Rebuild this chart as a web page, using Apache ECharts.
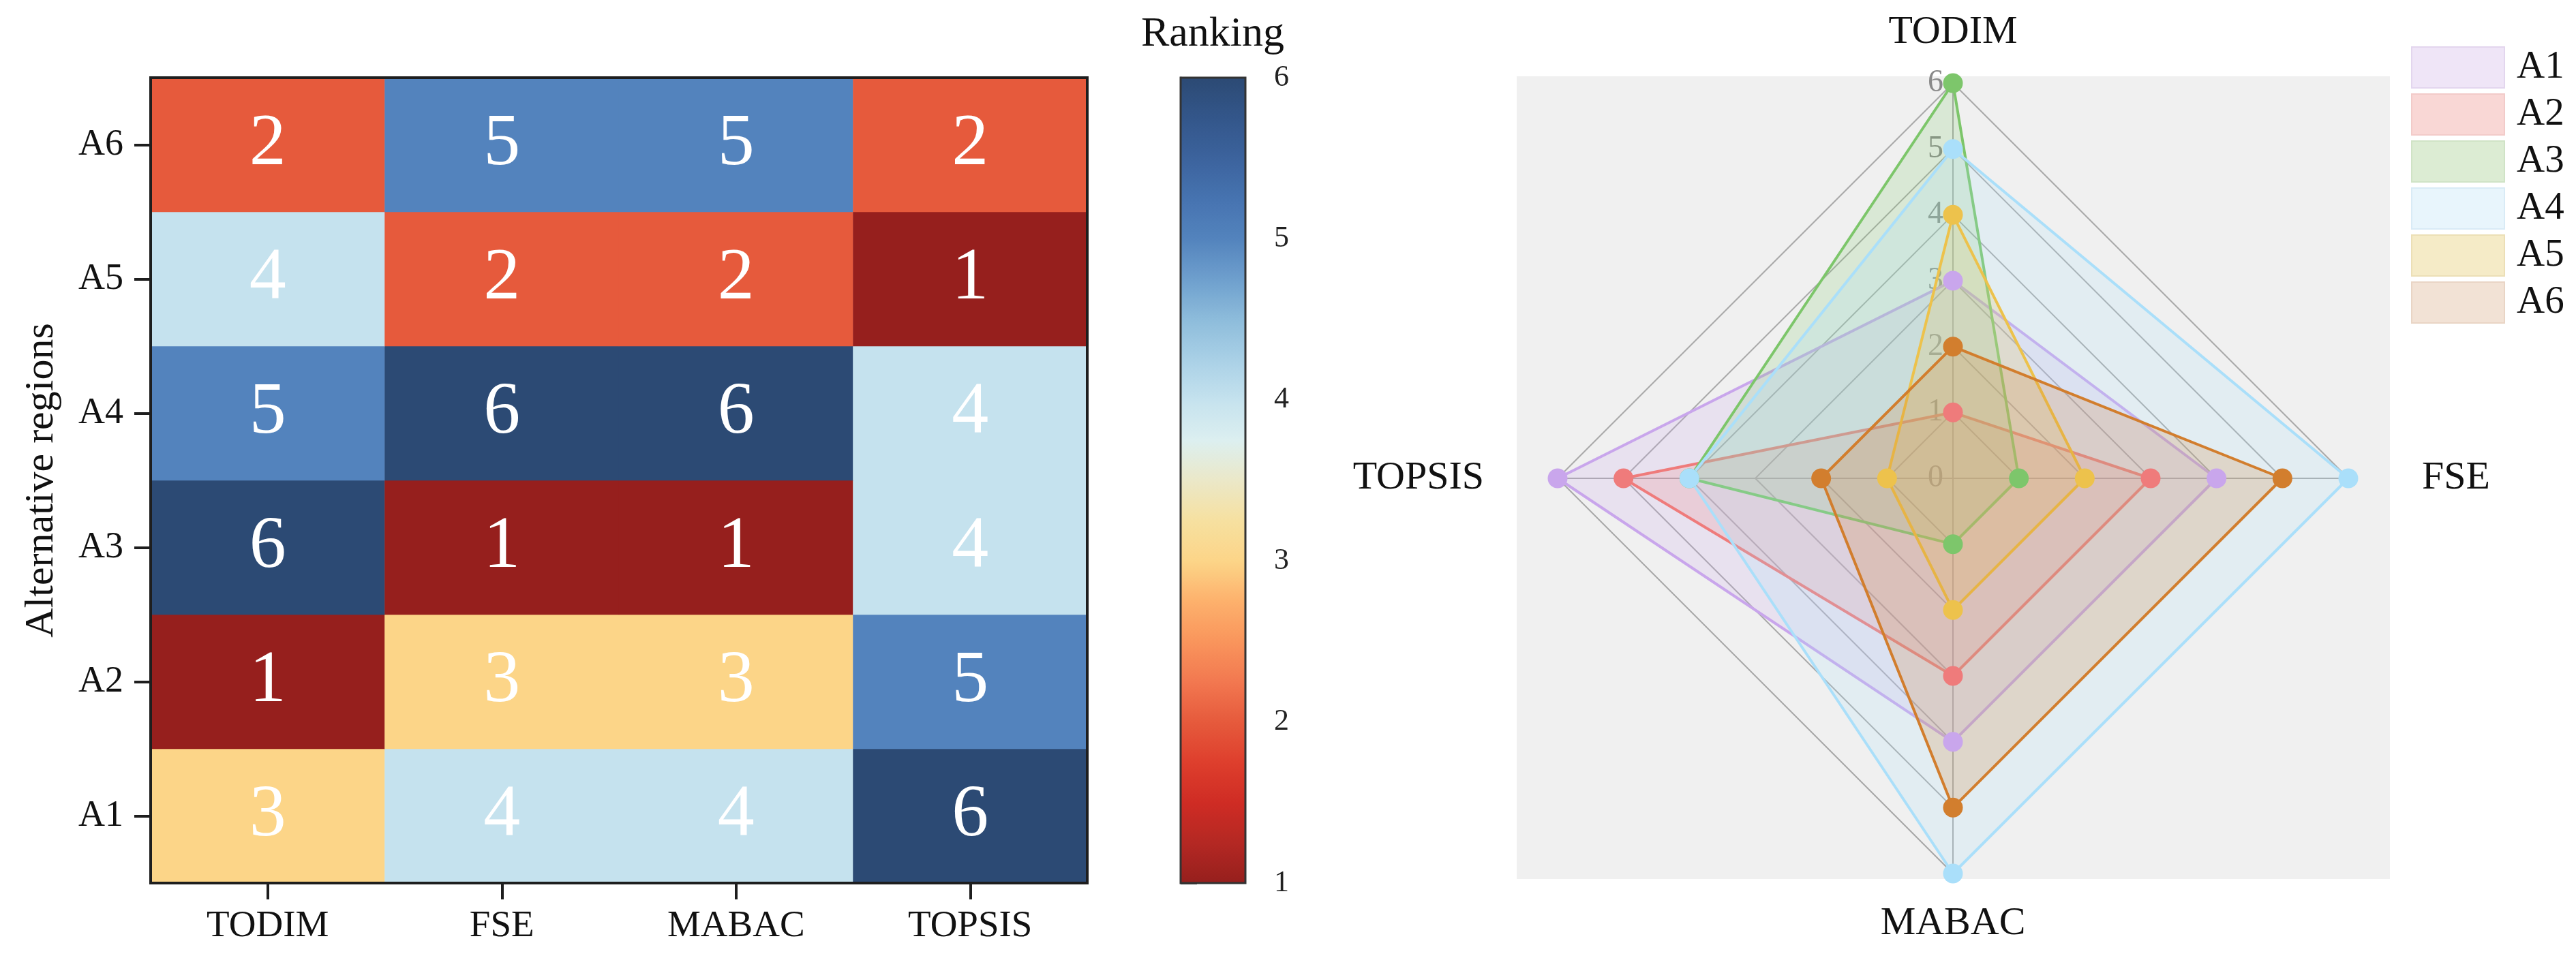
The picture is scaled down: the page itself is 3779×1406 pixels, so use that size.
<!DOCTYPE html>
<html>
<head>
<meta charset="utf-8">
<script src="https://cdn.jsdelivr.net/npm/echarts@6/dist/echarts.min.js"></script>
<style>html,body{margin:0;padding:0;background:#fff}#c{width:3779px;height:1406px}</style>
</head>
<body>
<div id="c"></div>
<script>
// ---- data ----
const methods = ['TODIM', 'FSE', 'MABAC', 'TOPSIS'];
const regions = ['A1', 'A2', 'A3', 'A4', 'A5', 'A6'];
// ranks per region, in the order of `methods`
const A1 = [3, 4, 4, 6];
const A2 = [1, 3, 3, 5];
const A3 = [6, 1, 1, 4];
const A4 = [5, 6, 6, 4];
const A5 = [4, 2, 2, 1];
const A6 = [2, 5, 5, 2];
const rankTicks = [1, 2, 3, 4, 5, 6];
const rankRows = [A1, A2, A3, A4, A5, A6];

// ---- styles ----
const FONT = 'Liberation Serif';
const rampColors = ['#961f1d','#b42823','#cf2c24','#de3f2d','#e65a3c','#f27850','#f9955c','#fdb16c',
  '#fcd588','#f6e0a0','#ebe8c8','#dceff0','#c5e2ee','#a9d0e6','#8dbcdb','#6e9fcd',
  '#5383bd','#4673b0','#3c639d','#33568a','#2c4a74'];
const lineColors = ['#c9a6ec', '#ef7b7b', '#7dc66b', '#aadffa', '#edc24c', '#d27e2e'];
const paleColors = ['#efe5f7', '#f9d7d5', '#dcecd3', '#e8f5fc', '#f5ebc7', '#f2e2d5'];
const paleBorders = ['#e3d6ee', '#f2cbc9', '#d0e3c6', '#d9ebf6', '#ecdfb6', '#e9d5c5'];

// heatmap cells built from the arrays
const heatData = [];
rankRows.forEach((row, yi) => row.forEach((v, xi) => heatData.push([xi, yi, v])));

// radar indicators go counter-clockwise from the top: TODIM, TOPSIS, MABAC, FSE
const radarOrder = ['TODIM', 'TOPSIS', 'MABAC', 'FSE'];
const radarSeries = rankRows.map((row, i) => ({
  type: 'radar',
  name: regions[i],
  symbol: 'circle',
  symbolSize: 29,
  lineStyle: { width: 4, color: lineColors[i] },
  itemStyle: { color: lineColors[i] },
  areaStyle: { color: lineColors[i], opacity: 0.2 },
  emphasis: { disabled: true },
  data: [{ name: regions[i], value: radarOrder.map(m => row[methods.indexOf(m)]) }]
}));

const chart = echarts.init(document.getElementById('c'));
chart.setOption({
  backgroundColor: '#ffffff',
  animation: false,
  textStyle: { fontFamily: FONT },
  title: [{
    text: 'Ranking', left: 1779, top: 20, textAlign: 'center', padding: 0,
    textStyle: { fontSize: 62, fontWeight: 'normal', color: '#111', fontFamily: FONT }
  }],
  graphic: { elements: [{
    type: 'rect', silent: true, z: -100,
    shape: { x: 2225, y: 112, width: 1281, height: 1178 },
    style: { fill: '#f0f0f0' }
  }]},
  grid: [
    { left: 221, top: 114, width: 1374, height: 1182, show: true, borderColor: '#1e1e1e', borderWidth: 4, backgroundColor: 'transparent', z: 10 },
    { left: 1732, top: 114, width: 95, height: 1182, show: true, borderColor: '#333', borderWidth: 3, backgroundColor: 'transparent', z: 10 }
  ],
  xAxis: [
    { type: 'category', data: methods, gridIndex: 0,
      axisLine: { show: true, lineStyle: { color: '#1e1e1e', width: 4 } },
      axisTick: { show: true, alignWithLabel: true, length: 24, lineStyle: { color: '#1e1e1e', width: 4 } },
      axisLabel: { fontSize: 55, color: '#111', margin: 36, fontFamily: FONT },
      splitLine: { show: false } },
    { type: 'value', gridIndex: 1, show: false, min: 0, max: 1 }
  ],
  yAxis: [
    { type: 'category', data: regions, gridIndex: 0,
      name: 'Alternative regions', nameLocation: 'middle', nameGap: 130,
      nameTextStyle: { fontSize: 60, color: '#111', fontFamily: FONT },
      axisLine: { show: true, lineStyle: { color: '#1e1e1e', width: 4 } },
      axisTick: { show: true, alignWithLabel: true, length: 24, lineStyle: { color: '#1e1e1e', width: 4 } },
      axisLabel: { fontSize: 54, color: '#111', margin: 40, fontFamily: FONT },
      splitLine: { show: false } },
    { type: 'value', gridIndex: 1, position: 'right',
      min: rankTicks[0], max: rankTicks[rankTicks.length - 1], interval: 1,
      axisLine: { show: true, lineStyle: { color: '#444', width: 3 } },
      axisTick: { show: true, length: 24, lineStyle: { color: '#333', width: 3 } },
      axisLabel: { fontSize: 44, color: '#222', margin: 42, fontFamily: FONT },
      splitLine: { show: false } }
  ],
  visualMap: {
    type: 'continuous', min: 1, max: 6, seriesIndex: 0, calculable: false,
    orient: 'vertical', left: 1732, top: 114, itemWidth: 95, itemHeight: 1182,
    padding: 0, text: null, hoverLink: false,
    inRange: { color: rampColors }
  },
  radar: {
    center: [2865, 702], radius: 580, startAngle: 90, splitNumber: 6, shape: 'polygon',
    indicator: radarOrder.map(n => ({ name: n, min: 0, max: 6 })),
    nameGap: 45,
    axisName: { color: '#111', fontSize: 58, fontFamily: FONT, padding: [0, 63, 0, 63] },
    splitLine: { lineStyle: { color: '#a8a8a8', width: 2 } },
    splitArea: { show: false },
    axisLine: { lineStyle: { color: '#a8a8a8', width: 2 } }
  },
  polar: { center: [2865, 702], radius: 580 },
  angleAxis: { show: false, startAngle: 90, min: 0, max: 360 },
  radiusAxis: {
    min: 0, max: 6, interval: 1, z: 1,
    axisLine: { show: false }, axisTick: { show: false }, splitLine: { show: false },
    axisLabel: { color: '#8a8a8a', fontSize: 46, fontFamily: FONT, margin: 14 }
  },
  legend: {
    orient: 'vertical', left: 3532, top: 63, icon: 'rect',
    itemWidth: 136, itemHeight: 60, itemGap: 7, selectedMode: false,
    textStyle: { fontSize: 57, color: '#111', fontFamily: FONT, lineHeight: 60, padding: [0, 0, 0, 13] },
    data: regions.map((r, i) => ({ name: r, itemStyle: { color: paleColors[i], borderColor: paleBorders[i], borderWidth: 2 } }))
  },
  series: [
    { type: 'heatmap', name: 'Ranking', xAxisIndex: 0, yAxisIndex: 0, data: heatData,
      label: { show: true, color: '#ffffff', fontSize: 108, fontFamily: FONT },
      itemStyle: { borderWidth: 0 },
      emphasis: { disabled: true } }
  ].concat(radarSeries)
});
</script>
</body>
</html>
